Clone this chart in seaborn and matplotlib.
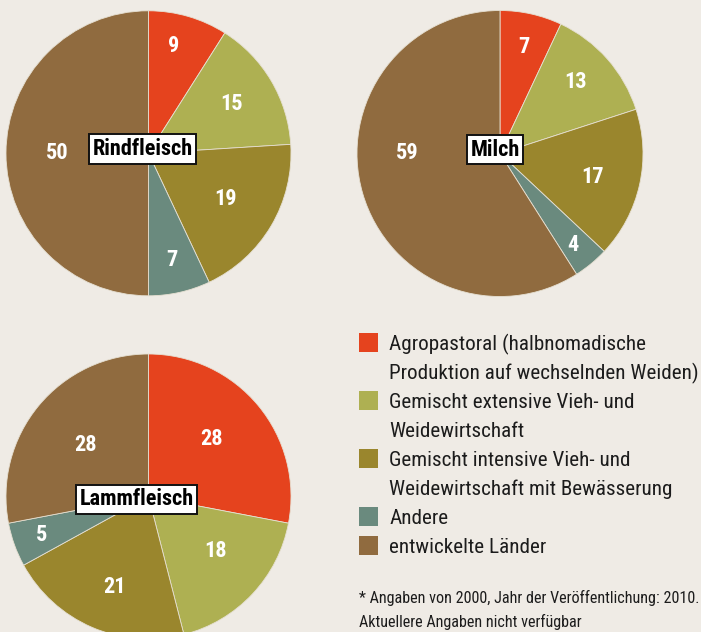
import numpy as np
import matplotlib
matplotlib.use("Agg")
import matplotlib.pyplot as plt
import seaborn as sns
from matplotlib.patches import Rectangle

# Production systems (legend order = slice order, clockwise from 12 o'clock)
categories = [
    "Agropastoral (halbnomadische\nProduktion auf wechselnden Weiden)",
    "Gemischt extensive Vieh- und\nWeidewirtschaft",
    "Gemischt intensive Vieh- und\nWeidewirtschaft mit Bewässerung",
    "Andere",
    "entwickelte Länder",
]
rindfleisch = [9, 15, 19, 7, 50]
milch = [7, 13, 17, 4, 59]
lammfleisch = [28, 18, 21, 5, 28]
titles = ["Rindfleisch", "Milch", "Lammfleisch"]
footnote = ["* Angaben von 2000, Jahr der Veröffentlichung: 2010.",
            "Aktuellere Angaben nicht verfügbar"]

BG = "#EFEBE5"
INK = "#1c1c1c"
palette = sns.color_palette(["#E5431E", "#AEB052", "#9A862D", "#6A8A7E", "#906B3F"])

sns.set_theme(style="white")
plt.rcParams["font.family"] = ["Roboto Condensed", "DejaVu Sans"]

W, H = 701, 632
fig = plt.figure(figsize=(W / 100, H / 100), dpi=100)
fig.patch.set_facecolor(BG)


def px_y(y):
    return (H - y) / H


def add_pie(cx, cy, r, values, title, label_r, angle_shift, title_xy):
    ax = fig.add_axes([(cx - r) / W, (H - cy - r) / H, 2 * r / W, 2 * r / H])
    wedges, _ = ax.pie(values, colors=palette, startangle=90, counterclock=False,
                       radius=1, wedgeprops=dict(linewidth=0.6, edgecolor="#E6E0D2"))
    ax.set_xlim(-1, 1)
    ax.set_ylim(-1, 1)
    ax.axis("off")
    for w, v, f, s in zip(wedges, values, label_r, angle_shift):
        ang = np.deg2rad((w.theta1 + w.theta2) / 2 + s)
        ax.text(f * np.cos(ang), f * np.sin(ang), str(v), ha="center", va="center",
                color="white", fontsize=16, fontweight="bold")
    ax.text(title_xy[0], title_xy[1], title, ha="center", va="center",
            fontsize=16, fontweight="bold", color="black",
            bbox=dict(boxstyle="square,pad=0.16", facecolor="white",
                      edgecolor="#111111", linewidth=1.4))
    return ax


add_pie(148.5, 153.3, 142.5, rindfleisch, titles[0],
        [0.77, 0.68, 0.63, 0.77, 0.64], [3, 0, 0, 0, 0], (-0.04, 0.03))
add_pie(500, 153.5, 143, milch, titles[1],
        [0.76, 0.73, 0.67, 0.82, 0.65], [0, 2, -1.3, -1.2, -16.2], (-0.035, 0.025))
add_pie(148.5, 496.5, 142.5, lammfleisch, titles[2],
        [0.60, 0.61, 0.68, 0.80, 0.57], [3, 4, 2.7, 0, 0], (-0.085, -0.02))

# Legend: colour square beside the first line of each entry
first_baseline = 350
line_h = 29.0
row = 0
for cat, col in zip(categories, palette):
    base = first_baseline + row * line_h
    fig.patches.append(Rectangle((359 / W, px_y(base + 2)), 19 / W, 19 / H,
                                 transform=fig.transFigure, facecolor=col,
                                 edgecolor="none", figure=fig))
    for line in cat.split("\n"):
        y = first_baseline + row * line_h
        fig.text(389 / W, px_y(y), line, ha="left", va="baseline",
                 fontsize=15.2, color=INK)
        row += 1

for i, line in enumerate(footnote):
    fig.text(359 / W, px_y(603 + i * 24), line, ha="left", va="baseline",
             fontsize=11.6, color=INK)

fig.savefig("out.png", dpi=100, facecolor=BG)
